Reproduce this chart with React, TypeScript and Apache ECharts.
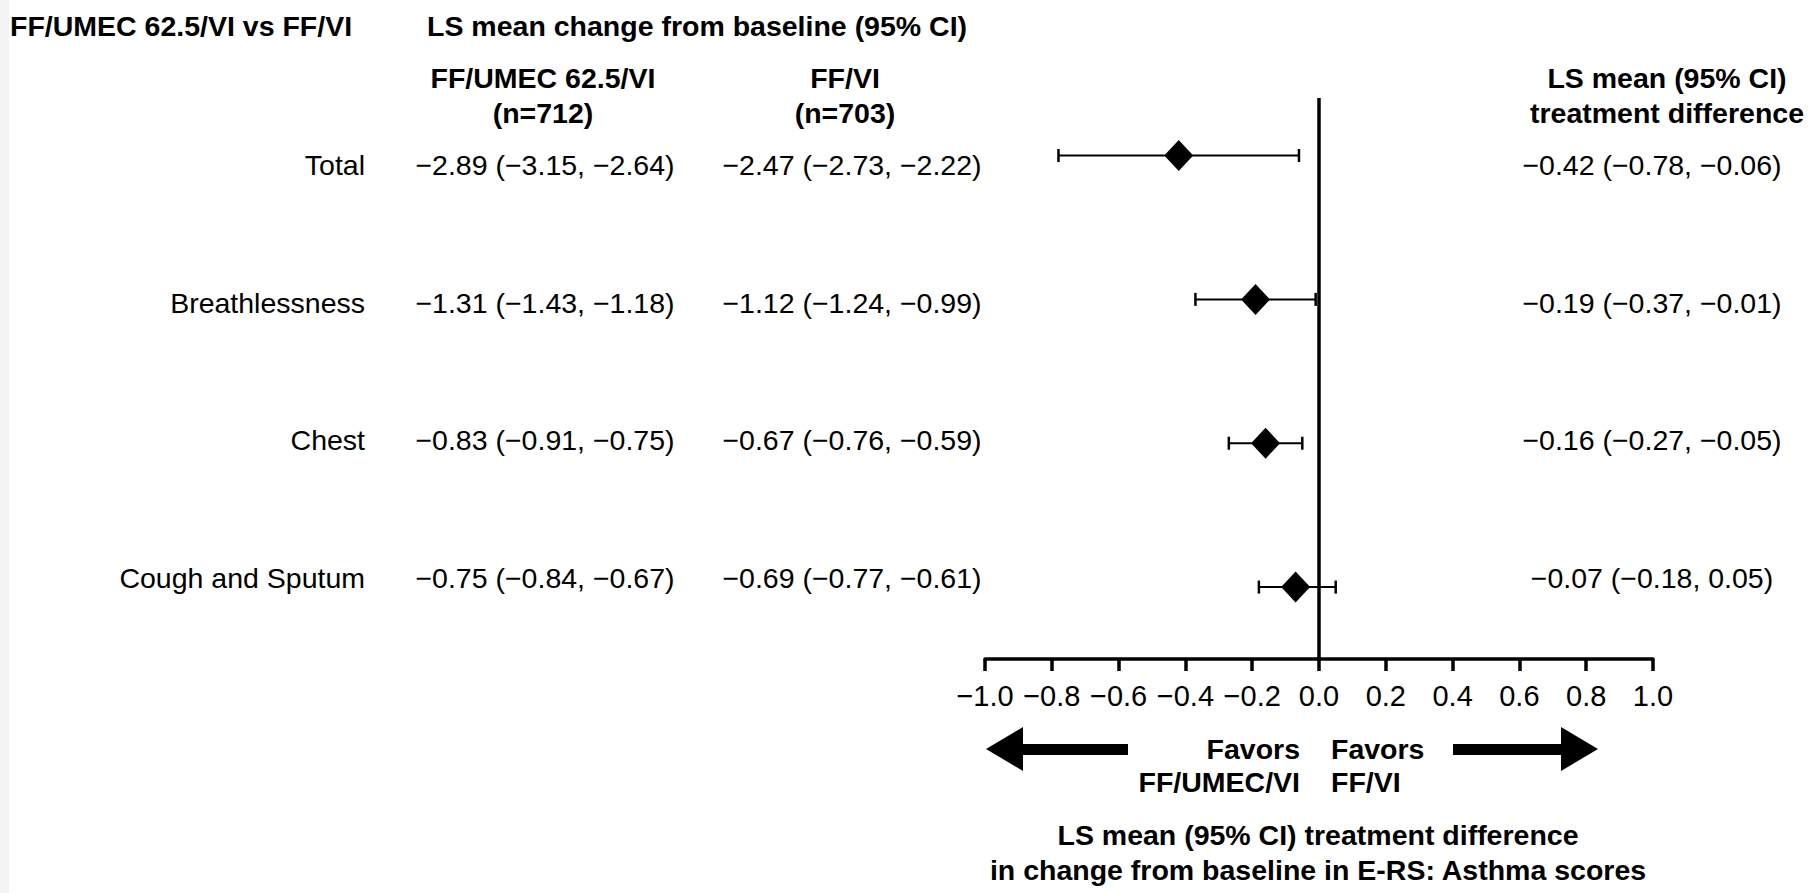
import React, { useEffect, useRef } from "react";
import * as echarts from "echarts";

// ---- data ----
const categories = ["Total", "Breathlessness", "Chest", "Cough and Sputum"];
const umecMean = [-2.89, -1.31, -0.83, -0.75];
const umecLow = [-3.15, -1.43, -0.91, -0.84];
const umecHigh = [-2.64, -1.18, -0.75, -0.67];
const ffviMean = [-2.47, -1.12, -0.67, -0.69];
const ffviLow = [-2.73, -1.24, -0.76, -0.77];
const ffviHigh = [-2.22, -0.99, -0.59, -0.61];
const diffMean = [-0.42, -0.19, -0.16, -0.07];
const diffLow = [-0.78, -0.37, -0.27, -0.18];
const diffHigh = [-0.06, -0.01, -0.05, 0.05];
const xMin = -1.0;
const xMax = 1.0;
const xStep = 0.2;

const titleLeft = "FF/UMEC 62.5/VI vs FF/VI";
const titleMid = "LS mean change from baseline (95% CI)";
const col1Head = ["FF/UMEC 62.5/VI", "(n=712)"];
const col2Head = ["FF/VI", "(n=703)"];
const col3Head = ["LS mean (95% CI)", "treatment difference"];
const favorsLeft = ["Favors", "FF/UMEC/VI"];
const favorsRight = ["Favors", "FF/VI"];
const xTitle = [
  "LS mean (95% CI) treatment difference",
  "in change from baseline in E-RS: Asthma scores",
];

const FONT = "'Liberation Sans', Arial, Helvetica, sans-serif";
const MINUS = "\u2212";

function num(v: number): string {
  const r = Math.round(v * 100) / 100;
  return (r < 0 ? MINUS : "") + Math.abs(r).toFixed(2);
}
function ci(m: number, lo: number, hi: number): string {
  return `${num(m)} (${num(lo)}, ${num(hi)})`;
}

export default function App() {
  const ref = useRef<HTMLDivElement>(null);

  useEffect(() => {
    if (!ref.current) return;
    const chart = echarts.init(ref.current, undefined, { renderer: "svg" });

    const reg = `28.5px ${FONT}`;
    const bold = `bold 28.5px ${FONT}`;
    const txt = (
      text: string,
      x: number,
      y: number,
      align: string,
      font: string
    ) => ({
      type: "text",
      silent: true,
      style: {
        text,
        x,
        y,
        font,
        fill: "#000",
        textAlign: align,
        textVerticalAlign: "middle",
      },
    });

    const rowTop = 165;
    const rowStep = 137.5;
    const graphics: any[] = [];
    // faint scan edge
    graphics.push({
      type: "rect",
      shape: { x: 0, y: 0, width: 9, height: 893 },
      style: { fill: "#f3f3f3" },
      silent: true,
      z: -10,
    });
    graphics.push(txt(titleLeft, 10, 26, "left", bold));
    graphics.push(txt(titleMid, 427, 26, "left", bold));
    col1Head.forEach((t, i) => graphics.push(txt(t, 543, 78 + i * 35, "center", bold)));
    col2Head.forEach((t, i) => graphics.push(txt(t, 845, 78 + i * 35, "center", bold)));
    col3Head.forEach((t, i) => graphics.push(txt(t, 1667, 78 + i * 35, "center", bold)));
    categories.forEach((c, i) => {
      const y = rowTop + i * rowStep;
      graphics.push(txt(c, 365, y, "right", reg));
      graphics.push(txt(ci(umecMean[i], umecLow[i], umecHigh[i]), 545, y, "center", reg));
      graphics.push(txt(ci(ffviMean[i], ffviLow[i], ffviHigh[i]), 852, y, "center", reg));
      graphics.push(txt(ci(diffMean[i], diffLow[i], diffHigh[i]), 1652, y, "center", reg));
    });
    favorsLeft.forEach((t, i) => graphics.push(txt(t, 1300, 749 + i * 33, "right", bold)));
    favorsRight.forEach((t, i) => graphics.push(txt(t, 1331, 749 + i * 33, "left", bold)));
    xTitle.forEach((t, i) => graphics.push(txt(t, 1318, 835 + i * 35, "center", bold)));
    // arrows
    graphics.push({
      type: "polygon",
      silent: true,
      shape: {
        points: [
          [986, 749],
          [1023, 727],
          [1023, 744],
          [1128, 744],
          [1128, 755],
          [1023, 755],
          [1023, 771],
        ],
      },
      style: { fill: "#000" },
    });
    graphics.push({
      type: "polygon",
      silent: true,
      shape: {
        points: [
          [1598, 749],
          [1561, 727],
          [1561, 744],
          [1453, 744],
          [1453, 755],
          [1561, 755],
          [1561, 771],
        ],
      },
      style: { fill: "#000" },
    });

    const ciData = categories.map((_, i) => [diffLow[i], diffHigh[i], i]);
    const ptData = categories.map((_, i) => [diffMean[i], i]);

    chart.setOption({
      animation: false,
      backgroundColor: "#fff",
      grid: { left: 985, right: 165, top: 98, bottom: 234, containLabel: false },
      xAxis: {
        type: "value",
        min: xMin,
        max: xMax,
        interval: xStep,
        axisLine: { show: true, onZero: false, lineStyle: { color: "#000", width: 3.5 } },
        axisTick: { show: true, length: 12, lineStyle: { color: "#000", width: 3.5 } },
        splitLine: { show: false },
        axisLabel: {
          color: "#000",
          fontSize: 29,
          fontFamily: FONT,
          margin: 22,
          formatter: (v: number) => {
            const r = Math.round(v * 10) / 10;
            return (r < 0 ? MINUS : "") + Math.abs(r).toFixed(1);
          },
        },
      },
      yAxis: {
        type: "value",
        inverse: true,
        min: -0.4,
        max: 3.5,
        show: false,
        splitLine: { show: false },
      },
      series: [
        {
          type: "custom",
          data: ciData,
          encode: { x: [0, 1], y: 2 },
          renderItem: (params: any, api: any) => {
            const lo = api.value(0);
            const hi = api.value(1);
            const y = api.value(2);
            const a = api.coord([lo, y]);
            const b = api.coord([hi, y]);
            const h = 6.5;
            const st = { stroke: "#000", lineWidth: 2 };
            return {
              type: "group",
              children: [
                { type: "line", shape: { x1: a[0], y1: a[1], x2: b[0], y2: b[1] }, style: st },
                { type: "line", shape: { x1: a[0], y1: a[1] - h, x2: a[0], y2: a[1] + h }, style: { stroke: "#000", lineWidth: 2.5 } },
                { type: "line", shape: { x1: b[0], y1: b[1] - h, x2: b[0], y2: b[1] + h }, style: { stroke: "#000", lineWidth: 2.5 } },
              ],
            };
          },
          z: 2,
        },
        {
          type: "scatter",
          data: ptData,
          symbol: "diamond",
          symbolSize: [29, 31],
          itemStyle: { color: "#000", opacity: 1 },
          z: 3,
          markLine: {
            silent: true,
            symbol: ["none", "none"],
            label: { show: false },
            lineStyle: { color: "#000", width: 3.5, type: "solid", opacity: 1 },
            data: [{ xAxis: 0 }],
            z: 4,
          },
        },
      ],
      graphic: { elements: graphics },
    });

    return () => chart.dispose();
  }, []);

  return (
    <div
      ref={ref}
      style={{ position: "fixed", left: 0, top: 0, width: 1818, height: 893 }}
    />
  );
}
